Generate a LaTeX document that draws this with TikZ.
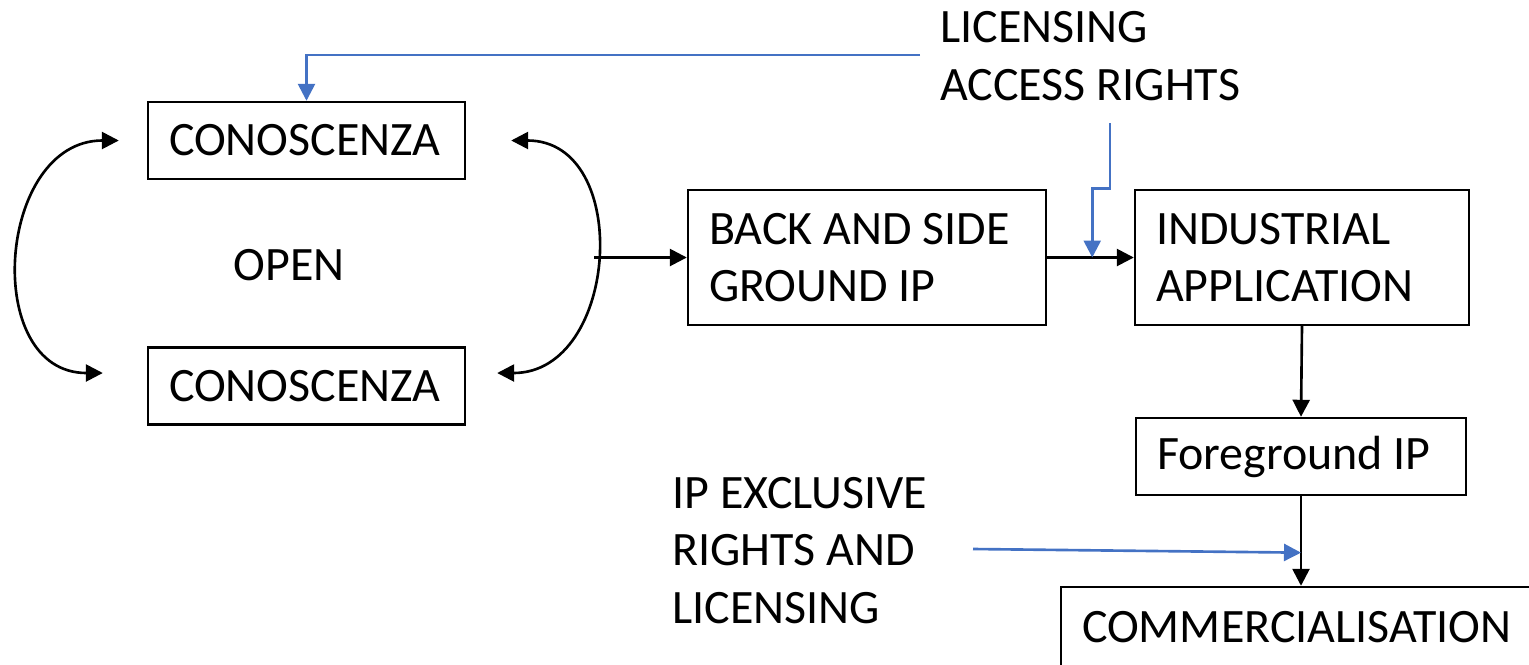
\documentclass[tikz,border=0pt]{standalone}
\usepackage{fontspec}
\setmainfont{Carlito}
\usepackage{xcolor,tikz}
\usetikzlibrary{calc,positioning,arrows.meta}
\definecolor{officeblue}{RGB}{68,114,196}
\newcommand{\bigfont}{\fontsize{27.3}{32.8}\selectfont}
\tikzset{>={Triangle[length=0.34cm,width=0.34cm]}}
\tikzset{
  box/.style={draw, line width=1.4pt, inner xsep=0.42cm, inner ysep=0pt, align=flush left, font=\bigfont},
  plaintext/.style={inner sep=0pt, align=flush left, font=\bigfont},
  flow/.style={line width=1.5pt},
  blueline/.style={officeblue, line width=1.5pt}
}

\begin{document}
\begin{tikzpicture}[x=0.02cm, y=-0.02cm]
\clip (0,0) rectangle (1529,664);
%%%% boxes
\node[box, minimum width=6.34cm, minimum height=1.54cm, text width=5.5cm] (cono1) at (306.5,140.5) {CONOSCENZA};
\node[box, minimum width=6.34cm, minimum height=1.54cm, text width=5.5cm] (cono2) at (306.5,386) {CONOSCENZA};
\node[plaintext] (open) at (289,265) {OPEN};
\node[box, minimum width=7.16cm, minimum height=2.7cm, text width=6.32cm] (back) at (867,257.5) {BACK AND SIDE\\GROUND IP};
\node[box, minimum width=6.68cm, minimum height=2.7cm, text width=5.84cm] (ind) at (1302,257.5) {INDUSTRIAL\\APPLICATION};
\node[box, minimum width=6.6cm, minimum height=1.54cm, text width=5.76cm] (fg) at (1301,456.5) {Foreground IP};
\node[box, minimum width=9.8cm, minimum height=1.6cm, text width=8.96cm] (comm) at (1306,627) {COMMERCIALISATION};
%%%% side texts
\node[plaintext, anchor=west] (lic) at (940,56) {LICENSING\\ACCESS RIGHTS};
\node[plaintext, anchor=west] (excl) at (672,550.5) {IP EXCLUSIVE\\RIGHTS AND\\LICENSING};
%%%% open loop
\draw[flow,<->] ($(cono1.west)+(-28,0)$) .. controls +(-122,0) and +(-122,0) .. ($(cono2.west)+(-44,-13)$);
\draw[flow,<->] ($(cono1.east)+(45,0)$) .. controls +(122,0) and +(122,0) .. ($(cono2.east)+(31,-13)$);
\coordinate (openjoin) at (594,257.5);
\draw[flow,->] (openjoin) -- (back.west);
%%%% main flow
\draw[flow,->] (back.east) -- (ind.west);
\draw[flow,->] (ind.south) -- (fg.north);
\draw[flow,->] (fg.south) -- (fg.south |- comm.north);
%%%% blue inputs
\coordinate (licend) at (920,55);
\draw[blueline,->] (licend) -| (cono1.north);
\coordinate (accend) at (1110,123);
\coordinate (tipjoin) at ($(back.east)!0.52!(ind.west)$);
\draw[blueline,->] (accend) -- (accend |- ind.north) -| (tipjoin);
\coordinate (exclend) at (973,549);
\draw[blueline,->] (exclend) -- ($(fg.south)!0.63!(fg.south |- comm.north)$);
\end{tikzpicture}
\end{document}
